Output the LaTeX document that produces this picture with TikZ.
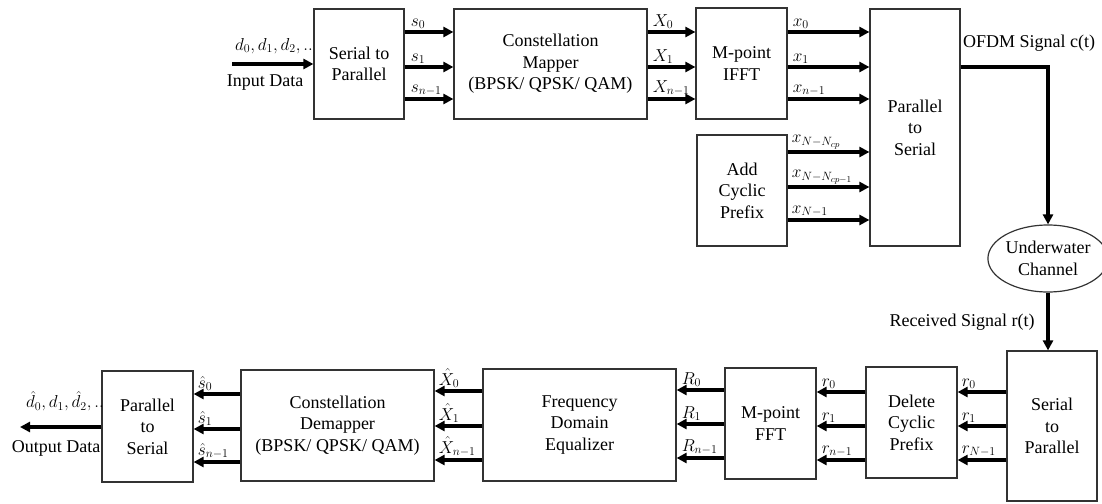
\documentclass[tikz,border=0pt]{standalone}
\usepackage{fontspec}
\setmainfont{Liberation Serif}
\usetikzlibrary{arrows.meta,shapes.geometric}
\newcommand{\bigtxt}{\fontsize{18}{21.5}\selectfont}
\begin{document}
\begin{tikzpicture}[x=1pt,y=-1pt,
  blk/.style={draw=black!80, line width=1.2pt, inner sep=0pt, align=center, font=\bigtxt},
  sig/.style={line width=3.2pt, -{Triangle[length=10pt,width=10pt]}},
  lab/.style={anchor=south west, inner sep=0pt, font=\bigtxt},
  txt/.style={inner sep=0pt, font=\bigtxt}]
\useasboundingbox (0,0) rectangle (1102,503);
% transmitter blocks
\node[blk, minimum width=90pt, minimum height=110pt] (sp1) at (359,64) {Serial to\\Parallel};
\node[blk, minimum width=193pt, minimum height=110pt] (map) at (550.5,64) {Constellation\\Mapper\\(BPSK/ QPSK/ QAM)};
\node[blk, minimum width=91pt, minimum height=111pt] (ifft) at (741.5,63.5) {M-point\\IFFT};
\node[blk, minimum width=90pt, minimum height=111pt] (acp) at (742,190.5) {Add\\Cyclic\\Prefix};
\node[blk, minimum width=90pt, minimum height=237pt] (ps1) at (915,127.5) {Parallel\\to\\Serial};
\node[blk, ellipse, minimum width=106pt, minimum height=67pt] (chan) at (1048,258.5) {Underwater\\Channel};
% receiver blocks
\node[blk, minimum width=90pt, minimum height=150pt] (sp2) at (1052,426) {Serial\\to\\Parallel};
\node[blk, minimum width=91pt, minimum height=111pt] (dcp) at (911.5,422.5) {Delete\\Cyclic\\Prefix};
\node[blk, minimum width=91pt, minimum height=111pt] (fft) at (770.5,423.5) {M-point\\FFT};
\node[blk, minimum width=193pt, minimum height=112pt] (eq) at (579.5,425) {Frequency\\Domain\\Equalizer};
\node[blk, minimum width=193pt, minimum height=111pt] (dem) at (337.5,425.5) {Constellation\\Demapper\\(BPSK/ QPSK/ QAM)};
\node[blk, minimum width=91pt, minimum height=111pt] (ps2) at (147.5,426.5) {Parallel\\to\\Serial};

% input
\coordinate (inp) at (232,64);
\draw[sig] (inp) -- (sp1.west);
\node[txt, anchor=east] (dlab) at (313,46) {$d_0, d_1, d_2, ..$};
\node[txt] (inlab) at (265,83) {Input Data};

% s arrows
\foreach \y/\l/\n in {32/s_0/a, 67/s_1/b, 99/s_{n-1}/c} {
  \draw[sig] (sp1.east |- 0,\y) -- (map.west |- 0,\y);
  \path (sp1.east |- 0,\y) node[lab, xshift=6pt, yshift=3pt] (sl\n) {$\l$};
}
% X arrows
\foreach \y/\l/\n in {32/X_0/a, 67/X_1/b, 99/X_{n-1}/c} {
  \draw[sig] (map.east |- 0,\y) -- (ifft.west |- 0,\y);
  \path (map.east |- 0,\y) node[lab, xshift=5pt, yshift=3pt] (Xl\n) {$\l$};
}
% x arrows
\foreach \y/\l/\n in {32/x_0/a, 67/x_1/b, 99/x_{n-1}/c} {
  \draw[sig] (ifft.east |- 0,\y) -- (ps1.west |- 0,\y);
  \path (ifft.east |- 0,\y) node[lab, xshift=5pt, yshift=3pt] (xl\n) {$\l$};
}
\foreach \y/\l/\n in {152/x_{N-N_{cp}}/a, 187/x_{N-N_{cp-1}}/b, 220/x_{N-1}/c} {
  \draw[sig] (acp.east |- 0,\y) -- (ps1.west |- 0,\y);
  \path (acp.east |- 0,\y) node[lab, xshift=4pt, yshift=3pt] (cl\n) {$\l$};
}

% OFDM signal to channel
\draw[sig] (ps1.east |- 0,67) -| (chan.north);
\node[txt, anchor=west] (ofdm) at (963,43) {OFDM Signal c(t)};
\draw[sig] (chan.south) -- (chan.south |- sp2.north);
\node[txt] (rcv) at (962,322) {Received Signal r(t)};

% receiver arrows
\foreach \y/\l/\n in {392/r_0/a, 426/r_1/b, 460/r_{N-1}/c} {
  \draw[sig] (sp2.west |- 0,\y) -- (dcp.east |- 0,\y);
  \path (dcp.east |- 0,\y) node[lab, xshift=4pt, yshift=3pt] (rl\n) {$\l$};
}
\foreach \y/\l/\n in {392/r_0/a, 426/r_1/b, 460/r_{n-1}/c} {
  \draw[sig] (dcp.west |- 0,\y) -- (fft.east |- 0,\y);
  \path (fft.east |- 0,\y) node[lab, xshift=5pt, yshift=3pt] (ql\n) {$\l$};
}
\foreach \y/\l/\n in {390/R_0/a, 424/R_1/b, 458/R_{n-1}/c} {
  \draw[sig] (fft.west |- 0,\y) -- (eq.east |- 0,\y);
  \path (eq.east |- 0,\y) node[lab, xshift=5pt, yshift=3pt] (Rl\n) {$\l$};
}
\foreach \y/\l/\n in {391/\hat{X}_0/a, 426/\hat{X}_1/b, 460/\hat{X}_{n-1}/c} {
  \draw[sig] (eq.west |- 0,\y) -- (dem.east |- 0,\y);
  \path (dem.east |- 0,\y) node[lab, xshift=4pt, yshift=3pt] (Hl\n) {$\l$};
}
\foreach \y/\l/\n in {394/\hat{s}_0/a, 429/\hat{s}_1/b, 462/\hat{s}_{n-1}/c} {
  \draw[sig] (dem.west |- 0,\y) -- (ps2.east |- 0,\y);
  \path (ps2.east |- 0,\y) node[lab, xshift=4pt, yshift=3pt] (ol\n) {$\l$};
}

% output
\coordinate (outp) at (20,427);
\draw[sig] (ps2.west |- outp) -- (outp);
\node[txt, anchor=east] (olab) at (104,401) {$\hat{d}_0, d_1, \hat{d}_2, ..$};
\node[txt] (outlab) at (56,448) {Output Data};
\end{tikzpicture}
\end{document}
